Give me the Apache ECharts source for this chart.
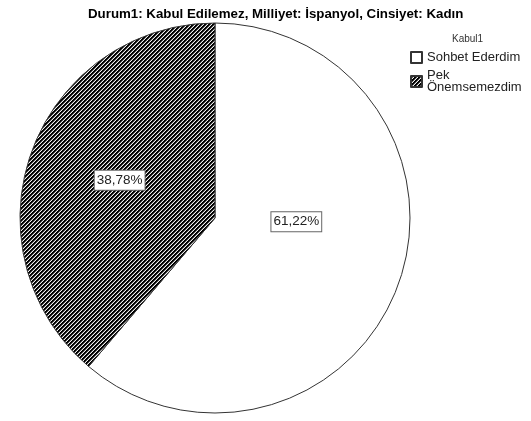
<!DOCTYPE html>
<html>
<head>
<meta charset="utf-8">
<script src="https://cdn.jsdelivr.net/npm/echarts@6/dist/echarts.min.js"></script>
<style>html,body{margin:0;padding:0;background:#fff}#c{width:531px;height:421px}</style>
</head>
<body>
<div id="c"></div>
<script>
const chartTitle = 'Durum1: Kabul Edilemez, Milliyet: İspanyol, Cinsiyet: Kadın';
const legendTitle = 'Kabul1';
const categories = ['Sohbet Ederdim', 'Pek Önemsemezdim'];
const counts = [30, 19];
const percentLabels = ['61,22%', '38,78%'];

function makeStripe() {
  const N = 4;
  const shades = [0, 0, 90, 240];
  const cv = document.createElement('canvas');
  cv.width = N; cv.height = N;
  const ctx = cv.getContext('2d');
  const img = ctx.createImageData(N, N);
  for (let y = 0; y < N; y++) for (let x = 0; x < N; x++) {
    const i = (y * N + x) * 4;
    const v = shades[(x + y) % N];
    img.data[i] = v; img.data[i+1] = v; img.data[i+2] = v; img.data[i+3] = 255;
  }
  ctx.putImageData(img, 0, 0);
  return cv;
}
const stripe = { image: makeStripe(), repeat: 'repeat' };
const fills = ['#ffffff', stripe];
const labelOffsets = [[-13, -31], [-1, -3]];

const chart = echarts.init(document.getElementById('c'), null, {renderer: 'canvas'});
chart.setOption({
  animation: false,
  title: [
    { text: chartTitle, left: 88, top: 8, padding: 0,
      textStyle: { fontFamily: 'Liberation Sans, Arial', fontSize: 13.3, fontWeight: 'bold', color: '#000' } },
    { text: legendTitle, left: 452, top: 34, padding: 0,
      textStyle: { fontFamily: 'Liberation Sans, Arial', fontSize: 10, fontWeight: 'normal', color: '#333' } }
  ],
  legend: {
    orient: 'vertical', left: 410, top: 51, padding: 0,
    itemWidth: 11, itemHeight: 11, itemGap: 5,
    icon: 'rect',
    data: categories,
    formatter: n => n.replace(' Ö', '\nÖ'),
    textStyle: { fontFamily: 'Liberation Sans, Arial', fontSize: 13, color: '#222', lineHeight: 12 }
  },
  series: [{
    type: 'pie',
    center: [215, 218],
    radius: 195,
    startAngle: 90,
    clockwise: true,
    avoidLabelOverlap: false,
    itemStyle: { borderColor: '#333', borderWidth: 1 },
    emphasis: { disabled: true },
    data: categories.map((c, i) => ({
      name: c, value: counts[i],
      itemStyle: { color: fills[i] },
      label: { offset: labelOffsets[i] }
    })),
    label: {
      show: true, position: 'inside',
      formatter: p => percentLabels[p.dataIndex],
      fontFamily: 'Liberation Sans, Arial', fontSize: 13.5, color: '#222',
      backgroundColor: '#fff', borderColor: '#666', borderWidth: 1,
      padding: [3, 2, 2, 2]
    },
    labelLine: { show: false }
  }]
});
</script>
</body>
</html>
